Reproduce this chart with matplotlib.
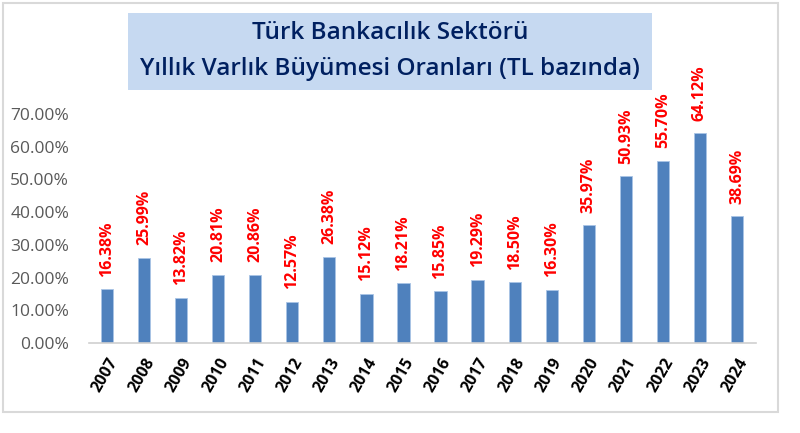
import matplotlib
matplotlib.use("Agg")
from matplotlib import pyplot as plt
from matplotlib.patches import Rectangle
from matplotlib.ticker import FuncFormatter

# data
years = [str(y) for y in range(2007, 2025)]
growth = [16.38, 25.99, 13.82, 20.81, 20.86, 12.57, 26.38, 15.12, 18.21,
          15.85, 19.29, 18.50, 16.30, 35.97, 50.93, 55.70, 64.12, 38.69]
title_lines = ["Türk Bankacılık Sektörü", "Yıllık Varlık Büyümesi Oranları (TL bazında)"]

plt.rcParams['font.family'] = ['Open Sans', 'DejaVu Sans']

fig = plt.figure(figsize=(8, 4.33), dpi=100)
fig.patch.set_facecolor("white")

# outer frame
fig.patches.append(Rectangle((3 / 800, 1 - 412 / 433), 775 / 800, 409 / 433,
                             transform=fig.transFigure, fill=False,
                             edgecolor="#d9d9d9", linewidth=1.5))

ax = fig.add_axes([88.5 / 800, 1 - 343 / 433, 667 / 800, 229 / 433])
x = range(len(years))
bars = ax.bar(x, growth, width=0.33, color="#4F81BD", edgecolor="#a9c4e6", linewidth=0.6, zorder=2)

for xi, v in zip(x, growth):
    ax.annotate("%.2f%%" % v, (xi, v), xytext=(0, 9), textcoords="offset points",
                rotation=90, ha="center", va="bottom", color="#ff0000",
                fontsize=11.5, fontweight="bold", annotation_clip=False)

ax.set_xlim(-0.5, len(years) - 0.5)
ax.set_ylim(0, 70)
ax.set_yticks(range(0, 71, 10))
ax.yaxis.set_major_formatter(FuncFormatter(lambda v, p: "%.2f%%" % v))
ax.set_xticks(list(x))
ax.set_xticklabels(years, rotation=60, ha="right", rotation_mode="anchor",
                   fontsize=11.5, fontweight="bold", color="black")
ax.tick_params(axis="y", length=0, labelsize=12.5, labelcolor="#595959", pad=14)
ax.tick_params(axis="x", length=0, pad=9)
for s in ["top", "right", "left"]:
    ax.spines[s].set_visible(False)
ax.spines["bottom"].set_color("#d0d0d0")
ax.spines["bottom"].set_linewidth(1.2)

# title box
fig.patches.append(Rectangle((128 / 800, 1 - 90 / 433), 524 / 800, 77 / 433,
                             transform=fig.transFigure, facecolor="#c6d9f1",
                             edgecolor="none"))
fig.text(390 / 800, 1 - 33 / 433, title_lines[0], ha="center", va="center",
         fontsize=17.5, fontweight="semibold", color="#002060")
fig.text(390 / 800, 1 - 69 / 433, title_lines[1], ha="center", va="center",
         fontsize=17.5, fontweight="semibold", color="#002060")

fig.savefig("out.png", dpi=100)
